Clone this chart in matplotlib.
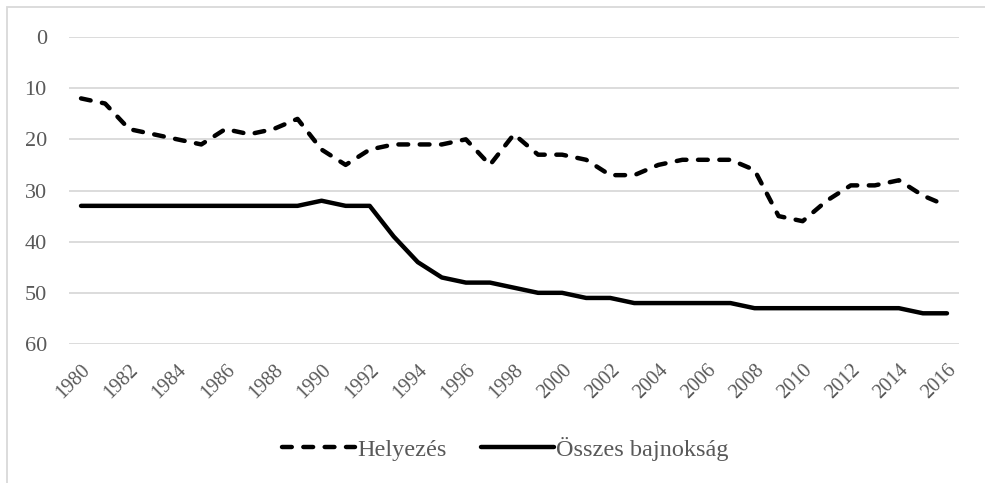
import matplotlib
matplotlib.use("Agg")
from matplotlib import pyplot as plt
from matplotlib.patches import Rectangle

# Adatok
years = list(range(1980, 2017))
helyezes = [12, 13, 18, 19, 20, 21, 18, 19, 18, 16,
            22, 25, 22, 21, 21, 21, 20, 25, 19, 23,
            23, 24, 27, 27, 25, 24, 24, 24, 26, 35,
            36, 32, 29, 29, 28, 31, 33]
osszes = [33, 33, 33, 33, 33, 33, 33, 33, 33, 33,
          32, 33, 33, 39, 44, 47, 48, 48, 49, 50,
          50, 51, 51, 52, 52, 52, 52, 52, 53, 53,
          53, 53, 53, 53, 53, 54, 54]
yticks = [0, 10, 20, 30, 40, 50, 60]
xticks = list(range(1980, 2017, 2))

plt.rcParams['font.family'] = ['Liberation Serif', 'DejaVu Serif']
txt = '#595959'

W, H = 985, 483
fig = plt.figure(figsize=(W / 100, H / 100), dpi=100)
ax = fig.add_axes([69 / W, 1 - 344 / H, (959 - 69) / W, (344 - 37) / H])

ax.plot(years, helyezes, color='black', lw=3.2, linestyle=(0, (2.2, 2.6)),
        dash_capstyle='round', solid_capstyle='round', label='Helyezés')
ax.plot(years, osszes, color='black', lw=3.2, solid_capstyle='round',
        label='Összes bajnokság')

ax.set_xlim(1979.5, 2016.5)
ax.set_ylim(60, 0)
ax.set_yticks(yticks)
ax.set_xticks(xticks)
ax.set_xticklabels([str(x) for x in xticks], rotation=45, ha='right',
                   rotation_mode='anchor')
ax.tick_params(axis='y', length=0, labelsize=16, colors=txt, pad=16)
ax.tick_params(axis='x', length=0, labelsize=14.5, colors=txt, pad=12)
ax.grid(axis='y', color='#d9d9d9', lw=1.3)
ax.set_axisbelow(True)
for s in ax.spines.values():
    s.set_visible(False)

leg = fig.legend(loc='center', bbox_to_anchor=(0.5 + 13 / W, 1 - 449 / H),
                 ncol=2, frameon=False, fontsize=17.5, handlelength=3.0,
                 handletextpad=0.1, columnspacing=1.4)
for t in leg.get_texts():
    t.set_color(txt)

# keret
fig.patches.append(Rectangle((7 / W, -0.1), 1.2, 1 - 7 / H + 0.1,
                             transform=fig.transFigure, fill=False,
                             edgecolor='#d9d9d9', lw=1.3))

fig.savefig('out.png', dpi=100)
